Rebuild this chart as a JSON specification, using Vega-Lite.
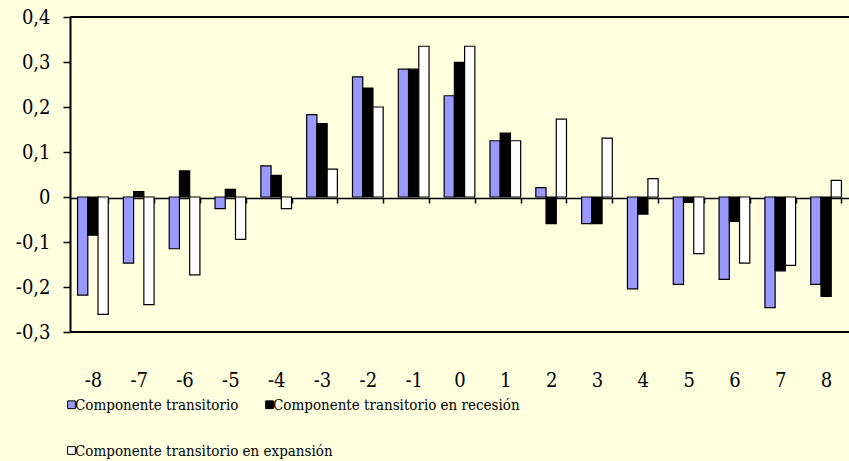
{
  "$schema": "https://vega.github.io/schema/vega-lite/v6.json",
  "width": 779,
  "height": 315,
  "autosize": {"type": "none"},
  "padding": {"left": 70, "top": 17, "right": 0, "bottom": 129},
  "background": "#FFFFE0",
  "config": {"view": {"stroke": null}, "font": "DejaVu Serif Condensed, DejaVu Serif"},
  "data": {
    "values": [
      {"t": -8, "serie": "Componente transitorio", "v": -0.218},
      {"t": -8, "serie": "Componente transitorio en recesión", "v": -0.085},
      {"t": -8, "serie": "Componente transitorio en expansión", "v": -0.261},
      {"t": -7, "serie": "Componente transitorio", "v": -0.147},
      {"t": -7, "serie": "Componente transitorio en recesión", "v": 0.012},
      {"t": -7, "serie": "Componente transitorio en expansión", "v": -0.239},
      {"t": -6, "serie": "Componente transitorio", "v": -0.115},
      {"t": -6, "serie": "Componente transitorio en recesión", "v": 0.058},
      {"t": -6, "serie": "Componente transitorio en expansión", "v": -0.173},
      {"t": -5, "serie": "Componente transitorio", "v": -0.026},
      {"t": -5, "serie": "Componente transitorio en recesión", "v": 0.017},
      {"t": -5, "serie": "Componente transitorio en expansión", "v": -0.094},
      {"t": -4, "serie": "Componente transitorio", "v": 0.069},
      {"t": -4, "serie": "Componente transitorio en recesión", "v": 0.048},
      {"t": -4, "serie": "Componente transitorio en expansión", "v": -0.026},
      {"t": -3, "serie": "Componente transitorio", "v": 0.183},
      {"t": -3, "serie": "Componente transitorio en recesión", "v": 0.163},
      {"t": -3, "serie": "Componente transitorio en expansión", "v": 0.062},
      {"t": -2, "serie": "Componente transitorio", "v": 0.267},
      {"t": -2, "serie": "Componente transitorio en recesión", "v": 0.242},
      {"t": -2, "serie": "Componente transitorio en expansión", "v": 0.2},
      {"t": -1, "serie": "Componente transitorio", "v": 0.284},
      {"t": -1, "serie": "Componente transitorio en recesión", "v": 0.284},
      {"t": -1, "serie": "Componente transitorio en expansión", "v": 0.335},
      {"t": 0, "serie": "Componente transitorio", "v": 0.225},
      {"t": 0, "serie": "Componente transitorio en recesión", "v": 0.299},
      {"t": 0, "serie": "Componente transitorio en expansión", "v": 0.335},
      {"t": 1, "serie": "Componente transitorio", "v": 0.125},
      {"t": 1, "serie": "Componente transitorio en recesión", "v": 0.142},
      {"t": 1, "serie": "Componente transitorio en expansión", "v": 0.125},
      {"t": 2, "serie": "Componente transitorio", "v": 0.021},
      {"t": 2, "serie": "Componente transitorio en recesión", "v": -0.059},
      {"t": 2, "serie": "Componente transitorio en expansión", "v": 0.173},
      {"t": 3, "serie": "Componente transitorio", "v": -0.059},
      {"t": 3, "serie": "Componente transitorio en recesión", "v": -0.059},
      {"t": 3, "serie": "Componente transitorio en expansión", "v": 0.131},
      {"t": 4, "serie": "Componente transitorio", "v": -0.204},
      {"t": 4, "serie": "Componente transitorio en recesión", "v": -0.038},
      {"t": 4, "serie": "Componente transitorio en expansión", "v": 0.041},
      {"t": 5, "serie": "Componente transitorio", "v": -0.194},
      {"t": 5, "serie": "Componente transitorio en recesión", "v": -0.012},
      {"t": 5, "serie": "Componente transitorio en expansión", "v": -0.126},
      {"t": 6, "serie": "Componente transitorio", "v": -0.183},
      {"t": 6, "serie": "Componente transitorio en recesión", "v": -0.054},
      {"t": 6, "serie": "Componente transitorio en expansión", "v": -0.147},
      {"t": 7, "serie": "Componente transitorio", "v": -0.246},
      {"t": 7, "serie": "Componente transitorio en recesión", "v": -0.164},
      {"t": 7, "serie": "Componente transitorio en expansión", "v": -0.152},
      {"t": 8, "serie": "Componente transitorio", "v": -0.194},
      {"t": 8, "serie": "Componente transitorio en recesión", "v": -0.221},
      {"t": 8, "serie": "Componente transitorio en expansión", "v": 0.037}
    ]
  },
  "encoding": {
    "x": {
      "field": "t", "type": "ordinal", "sort": "ascending",
      "scale": {"domain": [-8, -7, -6, -5, -4, -3, -2, -1, 0, 1, 2, 3, 4, 5, 6, 7, 8], "paddingInner": 0.33, "paddingOuter": 0.165},
      "axis": {
        "title": null, "labelAngle": 0, "offset": -134,
        "domainColor": "black", "domainWidth": 1.5,
        "tickBand": "extent", "tickColor": "black", "tickSize": 5, "tickWidth": 1.5,
        "labelPadding": 167, "labelFontSize": 20, "labelColor": "black", "labelFont": "DejaVu Serif Condensed, DejaVu Serif"
      }
    },
    "y": {
      "field": "v", "type": "quantitative",
      "scale": {"domain": [-0.3, 0.4], "nice": false, "zero": false},
      "axis": {
        "title": null, "values": [-0.3, -0.2, -0.1, 0, 0.1, 0.2, 0.3, 0.4], "grid": false,
        "domainColor": "black", "domainWidth": 2,
        "tickColor": "black", "tickSize": 7, "tickWidth": 1.5,
        "labelPadding": 13, "labelFontSize": 20, "labelColor": "black", "labelFont": "DejaVu Serif Condensed, DejaVu Serif",
        "labelExpr": "datum.value == 0 ? '0' : (datum.value < 0 ? '-' : '') + replace(format(abs(datum.value), '.1f'), '.', ',')"
      }
    }
  },
  "layer": [
    {
      "transform": [{"filter": "datum.serie != 'Componente transitorio en expansión'"}],
      "mark": {"type": "bar", "stroke": "black", "strokeWidth": 1.2},
      "encoding": {
        "xOffset": {
          "field": "serie", "type": "nominal",
          "scale": {"domain": ["Componente transitorio", "Componente transitorio en recesión", "Componente transitorio en expansión"]}
        },
        "color": {
          "field": "serie", "type": "nominal",
          "sort": ["Componente transitorio", "Componente transitorio en recesión"],
          "scale": {
            "domain": ["Componente transitorio", "Componente transitorio en recesión"],
            "range": ["#9999FF", "#000000"]
          },
          "legend": {
            "title": null, "orient": "none", "legendX": -6, "legendY": 380,
            "direction": "horizontal", "columns": 2, "columnPadding": 23,
            "symbolType": "square", "symbolSize": 60, "symbolStrokeColor": "black", "symbolStrokeWidth": 1,
            "labelFontSize": 15, "labelFont": "DejaVu Serif Condensed, DejaVu Serif", "labelColor": "black", "labelOffset": -4, "labelLimit": 400
          }
        }
      }
    },
    {
      "transform": [{"filter": "datum.serie == 'Componente transitorio en expansión'"}],
      "mark": {"type": "bar", "stroke": "black", "strokeWidth": 1.2},
      "encoding": {
        "xOffset": {
          "field": "serie", "type": "nominal",
          "scale": {"domain": ["Componente transitorio", "Componente transitorio en recesión", "Componente transitorio en expansión"]}
        },
        "fill": {
          "field": "serie", "type": "nominal",
          "scale": {"domain": ["Componente transitorio en expansión"], "range": ["#FFFFFF"]},
          "legend": {
            "title": null, "orient": "none", "legendX": -6, "legendY": 426,
            "symbolType": "square", "symbolSize": 60, "symbolStrokeColor": "black", "symbolStrokeWidth": 1,
            "labelFontSize": 15, "labelFont": "DejaVu Serif Condensed, DejaVu Serif", "labelColor": "black", "labelOffset": -4, "labelLimit": 400
          }
        }
      }
    },
    {
      "data": {"values": [{"b": 0.4}, {"b": -0.3}]},
      "mark": {"type": "rule", "color": "black", "strokeWidth": 2},
      "encoding": {"y": {"field": "b", "type": "quantitative"}, "x": null}
    }
  ]
}
